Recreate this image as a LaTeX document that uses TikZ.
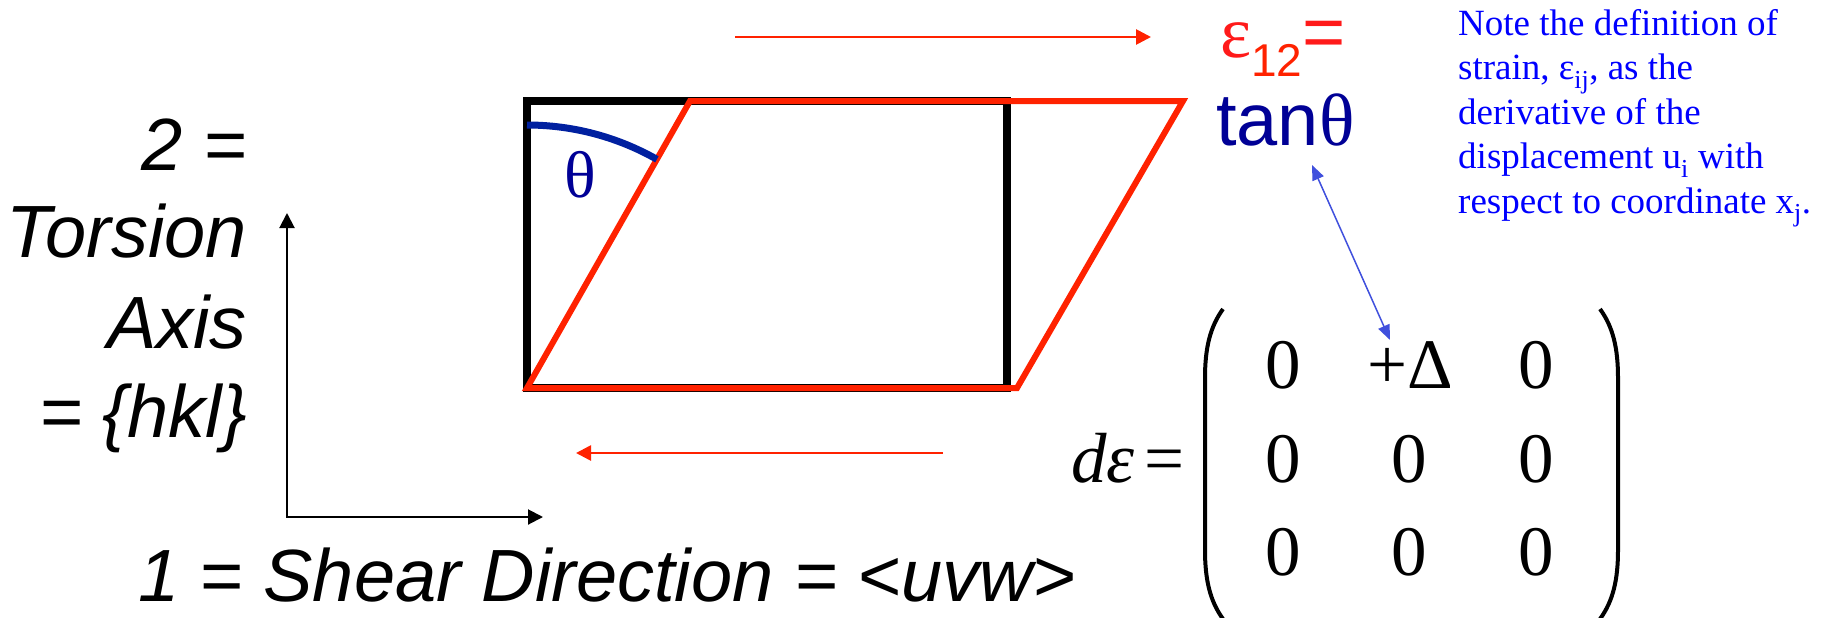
\documentclass[tikz,border=0pt]{standalone}
\usepackage{fontspec}
\setmainfont{Liberation Serif}
\setsansfont{Liberation Sans}
\usetikzlibrary{arrows.meta}
\definecolor{shred}{HTML}{FF2200}
\definecolor{epsred}{HTML}{FF1A1A}
\definecolor{navy}{HTML}{000096}
\definecolor{arcblue}{HTML}{0020A0}
\definecolor{noteblue}{HTML}{0000FF}
\definecolor{linkblue}{HTML}{4050DD}
\tikzset{
  axislbl/.style={inner sep=0pt, font=\sffamily\itshape\fontsize{74}{89}\selectfont},
  matentry/.style={inner sep=0pt, anchor=base, font=\fontsize{71}{71}\selectfont},
  redarrow/.style={shred, line width=2.7pt, -{Triangle[length=15pt,width=15pt]}},
  axisline/.style={black, line width=2pt, {Triangle[length=15pt,width=15pt]}-{Triangle[length=15pt,width=15pt]}},
  paren/.style={black, line width=4pt},
  linkarrow/.style={linkblue, line width=1.5pt, {Triangle[length=15pt,width=12pt]}-{Triangle[length=15pt,width=12pt]}}
}
\begin{document}
\begin{tikzpicture}[x=1pt,y=-1pt]
\useasboundingbox[fill=white] (0,0) rectangle (1833,618);

% original square and sheared parallelogram
\draw[black, line width=7.5pt, line join=miter] (527,101) rectangle (1007,388);
\coordinate (BL) at (527,388);
\coordinate (TL) at (690,101);
\coordinate (TR) at (1183,101);
\coordinate (BR) at (1017,388);
\draw[shred, line width=6pt, line join=miter] (BL) -- (TL) -- (TR) -- (BR) -- cycle;

% angle arc and theta
\draw[arcblue, line width=7pt] (527,125) arc[start angle=-90, end angle=-60.4, radius=263];
\node[inner sep=0pt, text=navy, font=\fontsize{66}{66}\selectfont] (theta) at (580,175) {θ};

% shear arrows
\coordinate (topA) at (735,37);
\coordinate (topB) at (1151,37);
\draw[redarrow] (topA) -- (topB);
\coordinate (botA) at (943,453);
\coordinate (botB) at (576,453);
\draw[redarrow] (botA) -- (botB);

% axes
\coordinate (axTop) at (287,213);
\coordinate (axO) at (287,517);
\coordinate (axRight) at (543,517);
\draw[axisline] (axTop) -- (axO) -- (axRight);

% axis labels
\node[axislbl, anchor=base east] (lab2) at (247,170) {2 =};
\node[axislbl, anchor=base east] (labT) at (247,257) {Torsion};
\node[axislbl, anchor=base east] (labA) at (247,348) {Axis};
\node[axislbl, anchor=base east] (labH) at (247,437) {= \{hkl\}};
\node[axislbl, anchor=base west] (lab1) at (138,601) {1 = Shear Direction = <uvw>};

% epsilon_12 = tan theta
\node[inner sep=0pt, anchor=base west, text=epsred] (eps) at (1220,57)
  {\fontsize{74}{74}\selectfont ε\raisebox{-19pt}{\color{shred}\sffamily\fontsize{46}{46}\selectfont 12}{\sffamily =}};
\node[inner sep=0pt, anchor=base west, text=navy] (tan) at (1216,145)
  {\sffamily\fontsize{74}{74}\selectfont tan{\rmfamily θ}};

% note
\node[anchor=north west, inner sep=0pt, align=left, text=noteblue,
      font=\fontsize{37}{44.5}\selectfont] (note) at (1458,9)
  {Note the definition of\\strain, ε\textsubscript{ij}, as the\\derivative of the\\displacement u\textsubscript{i} with\\respect to coordinate x\textsubscript{j}.};

% d epsilon = matrix
\node[inner sep=0pt, anchor=base east, font=\fontsize{71}{71}\selectfont] (deps) at (1185,482)
  {\itshape dε\hspace{10pt}\upshape =};
\draw[paren] (1223,309) .. controls (1210,327) and (1205,348) .. (1205,378)
  -- (1205,550) .. controls (1205,580) and (1210,601) .. (1223,619);
\draw[paren] (1600,309) .. controls (1613,327) and (1618,348) .. (1618,378)
  -- (1618,550) .. controls (1618,580) and (1613,601) .. (1600,619);
\node[matentry] (m11) at (1283,388) {0};
\node[matentry] (m12) at (1410,388) {+Δ};
\node[matentry] (m13) at (1536,388) {0};
\node[matentry] (m21) at (1283,482) {0};
\node[matentry] (m22) at (1409,482) {0};
\node[matentry] (m23) at (1536,482) {0};
\node[matentry] (m31) at (1283,575) {0};
\node[matentry] (m32) at (1409,575) {0};
\node[matentry] (m33) at (1536,575) {0};

% link arrow between tan theta and +Delta
\coordinate (linkTop) at (1312,165);
\coordinate (linkBot) at (1390,340);
\draw[linkarrow] (linkTop) -- (linkBot);
\end{tikzpicture}
\end{document}
